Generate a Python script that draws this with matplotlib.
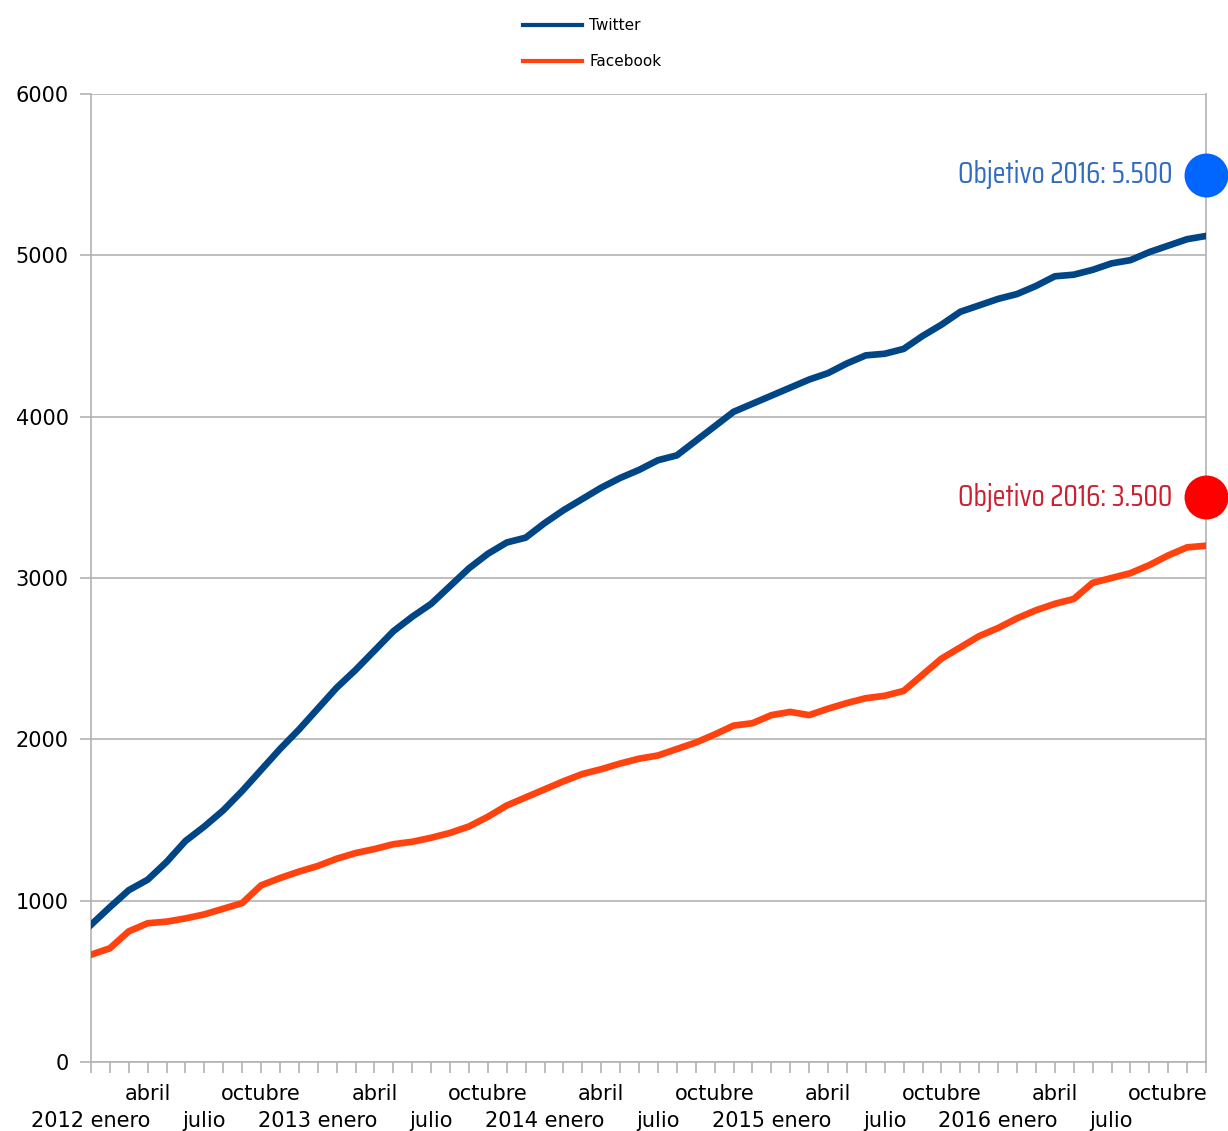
import matplotlib
matplotlib.use("Agg")
import matplotlib.pyplot as plt
from matplotlib import font_manager

# ---- data ----
years = [2012, 2013, 2014, 2015, 2016]
month_names = ["enero", "febrero", "marzo", "abril", "mayo", "junio",
               "julio", "agosto", "septiembre", "octubre", "noviembre", "diciembre"]

twitter = [850, 960, 1065, 1130, 1240, 1370, 1460, 1560, 1680, 1810,
           1940, 2060, 2190, 2320, 2430, 2550, 2670, 2760, 2840, 2950,
           3060, 3150, 3220, 3250, 3340, 3420, 3490, 3560, 3620, 3670,
           3730, 3760, 3850, 3940, 4030, 4080, 4130, 4180, 4230, 4270,
           4330, 4380, 4390, 4420, 4500, 4570, 4650, 4690, 4730, 4760,
           4810, 4870, 4880, 4910, 4950, 4970, 5020, 5060, 5100, 5120]

facebook = [665, 705, 810, 860, 870, 890, 915, 950, 985, 1095,
            1140, 1180, 1215, 1260, 1295, 1320, 1350, 1365, 1390, 1420,
            1460, 1520, 1590, 1640, 1690, 1740, 1785, 1815, 1850, 1880,
            1900, 1940, 1980, 2030, 2085, 2100, 2150, 2170, 2150, 2190,
            2225, 2255, 2270, 2300, 2400, 2500, 2570, 2640, 2690, 2750,
            2800, 2840, 2870, 2970, 3000, 3030, 3080, 3140, 3190, 3200]

targets = [5500, 3500]
target_labels = ["Objetivo 2016: 5.500", "Objetivo 2016: 3.500"]
yticks = [0, 1000, 2000, 3000, 4000, 5000, 6000]

# ---- category labels (two staggered rows) ----
upper_pos, upper_lab, lower_pos, lower_lab = [], [], [], []
i = 0
for y in years:
    for m, name in enumerate(month_names):
        if m == 0:
            lower_pos.append(i); lower_lab.append("%d %s" % (y, name))
        elif m == 6:
            lower_pos.append(i); lower_lab.append(name)
        elif m in (3, 9):
            upper_pos.append(i); upper_lab.append(name)
        i += 1

x = list(range(len(twitter)))

W, H = 1228, 1131
fig = plt.figure(figsize=(W / 100, H / 100), dpi=100)
ax = fig.add_axes([91 / W, 1 - 1062 / H, (1206 - 91) / W, (1062 - 94) / H])

tw_color = "#004586"
fb_color = "#ff420e"
grid_c = "#b3b3b3"

ax.plot(x, twitter, color=tw_color, lw=4.8, label="Twitter", solid_joinstyle="round", zorder=3)
ax.plot(x, facebook, color=fb_color, lw=4.8, label="Facebook", solid_joinstyle="round", zorder=3)

ax.set_xlim(0, len(x) - 1)
ax.set_ylim(0, 6000)
ax.set_yticks(yticks)
ax.set_yticklabels([str(v) for v in yticks], fontsize=15, family="DejaVu Sans")

ax.set_xticks(x)
ax.set_xticklabels([upper_lab[upper_pos.index(k)] if k in upper_pos else "" for k in x],
                   fontsize=15, family="DejaVu Sans")

sec = ax.secondary_xaxis("bottom")
sec.set_xticks(lower_pos)
sec.set_xticklabels(lower_lab, fontsize=15, family="DejaVu Sans")
sec.tick_params(length=0, pad=35)
sec.spines["bottom"].set_visible(False)

ax.grid(axis="y", color=grid_c, lw=1.2)
ax.set_axisbelow(True)
for s in ["left", "right", "bottom"]:
    ax.spines[s].set_color(grid_c)
    ax.spines[s].set_linewidth(1.2)
ax.spines["top"].set_visible(False)
ax.tick_params(axis="both", color=grid_c, length=8, width=1.2)
ax.tick_params(axis="x", pad=8)
ax.tick_params(axis="y", pad=8)

# targets: circles + condensed labels
avail = {f.name for f in font_manager.fontManager.ttflist}
cond_font = "DejaVu Sans"
for cand in ["Saira Extra Condensed", "Saira Condensed", "Pathway Gothic One",
             "Antonio", "Roboto Condensed", "Oswald", "Liberation Sans Narrow"]:
    if cand in avail:
        cond_font = cand
        break

circle_colors = ["#0066ff", "#ff0000"]
text_colors = ["#2f6cc0", "#cc1f2f"]
texts = []
for tv, tl, cc, tc in zip(targets, target_labels, circle_colors, text_colors):
    ax.scatter([len(x) - 1], [tv], s=1000, color=cc, clip_on=False, zorder=5, linewidths=0)
    t = ax.annotate(tl, xy=(len(x) - 1, tv), xytext=(-24, 0), textcoords="offset points",
                    ha="right", va="center", fontsize=30, color=tc, family=cond_font,
                    annotation_clip=False)
    texts.append(t)

leg = fig.legend(loc="upper center", bbox_to_anchor=(0.482, 0.996), frameon=False,
                 fontsize=11, labelspacing=1.35, handlelength=3.9, handletextpad=0.45)
for line in leg.get_lines():
    line.set_linewidth(3)

# fit the target labels to the reference width (~215 px)
fig.canvas.draw()
r = fig.canvas.get_renderer()
for t in texts:
    w = t.get_window_extent(r).width
    t.set_fontsize(30 * 215.0 / w)

fig.savefig("out.png", dpi=100)
